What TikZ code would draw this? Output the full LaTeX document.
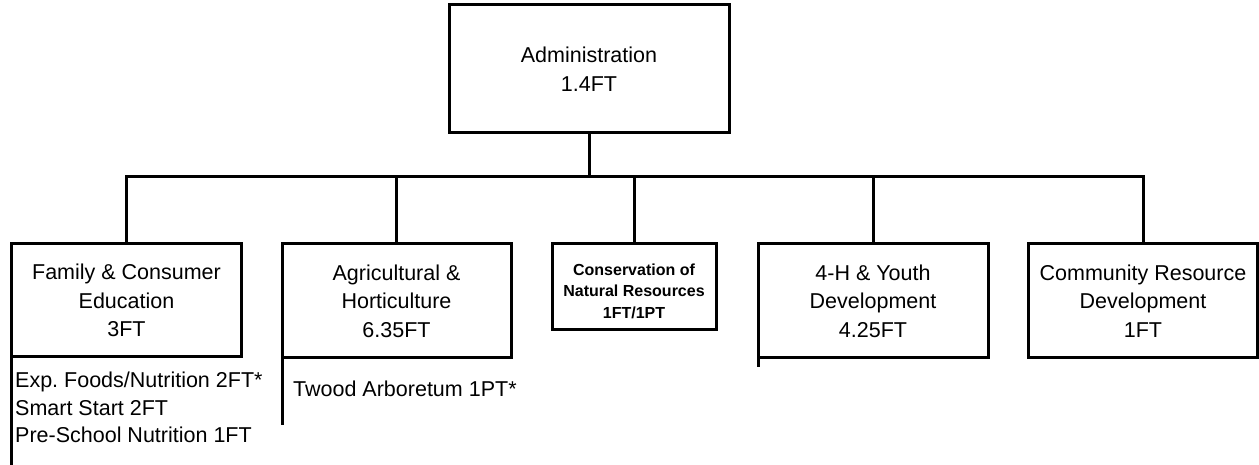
\documentclass[tikz,border=0pt]{standalone}
\usepackage{fontspec}
\setmainfont{Liberation Sans}
\frenchspacing
\begin{document}
\begin{tikzpicture}[x=1bp,y=-1bp,
  box/.style={draw, line width=3bp, rectangle, inner sep=0pt, outer sep=0pt, align=center,
    font=\fontsize{21.5bp}{28.5bp}\selectfont},
  smalltext/.style={inner sep=0pt, align=center, font=\fontsize{16bp}{21.5bp}\selectfont\bfseries},
  sub/.style={anchor=base west, inner sep=0pt, font=\fontsize{21.5bp}{27.5bp}\selectfont},
  wire/.style={line width=3bp}]
\useasboundingbox (0,0) rectangle (1259,465);
\node[box, minimum width=280bp, minimum height=128bp] (admin) at (589,69) {Administration\\1.4FT};
\node[box, minimum width=229bp, minimum height=113bp] (fam) at (126.5,300.5) {Family \& Consumer\\Education\\3FT};
\node[box, minimum width=229bp, minimum height=114bp] (agr) at (396.5,301) {Agricultural \&\\Horticulture\\6.35FT};
\node[box, minimum width=164bp, minimum height=86bp] (cons) at (634,287) {};
\node[smalltext] (constext) at ([yshift=-4bp]cons.center) {Conservation of\\Natural Resources\\1FT/1PT};
\node[box, minimum width=230bp, minimum height=114bp] (youth) at (873,301) {4-H \& Youth\\Development\\4.25FT};
\node[box, minimum width=229bp, minimum height=114bp] (crd) at (1143,301) {Community Resource\\Development\\1FT};
\coordinate (bar) at (589,177);
\draw[wire] (admin.south) -- (bar);
\draw[wire] (fam.north) -- (fam.north |- bar) -- (crd.north |- bar) -- (crd.north);
\draw[wire] (agr.north) -- (agr.north |- bar);
\draw[wire] (cons.north) -- (cons.north |- bar);
\draw[wire] (youth.north) -- (youth.north |- bar);
\coordinate (famend) at (0,465);
\coordinate (agrend) at (0,425);
\coordinate (youthend) at (0,367);
\draw[wire] (fam.south west) -- (fam.south west |- famend);
\draw[wire] (agr.south west) -- (agr.south west |- agrend);
\draw[wire] (youth.south west) -- (youth.south west |- youthend);
\node[sub] (s1) at (15,388) {Exp. Foods/Nutrition 2FT*};
\node[sub] (s2) at (15,415.5) {Smart Start 2FT};
\node[sub] (s3) at (15,443) {Pre-School Nutrition 1FT};
\node[sub] (s4) at (293,397) {Twood Arboretum 1PT*};
\end{tikzpicture}
\end{document}
